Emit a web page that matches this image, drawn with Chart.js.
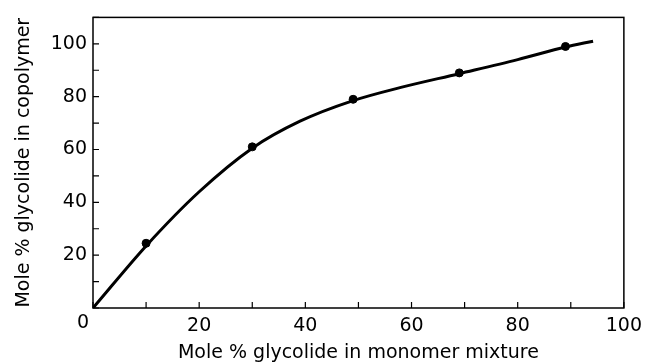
<!DOCTYPE html>
<html>
<head>
<meta charset="utf-8">
<script src="https://cdn.jsdelivr.net/npm/chart.js@4"></script>
<style>
  html, body { margin: 0; padding: 0; background: #fff; }
  #wrap { width: 649px; height: 364px; }
</style>
</head>
<body>
<div id="wrap"><canvas id="copolymerChart" width="649" height="364"></canvas></div>
<script>
// Measured points (mole % glycolide in monomer mixture vs in copolymer)
const measuredX = [10, 30, 49, 69, 89];
const measuredY = [24.5, 61, 79, 89, 99];

// Hand-drawn fitted curve
const curveX = [0, 10, 20, 30, 39, 49, 58, 69, 80, 89, 94.2];
const curveY = [0, 23.5, 44, 60.5, 70.7, 78.5, 83.5, 88.7, 94, 98.8, 101];

const xTicks = [0, 20, 40, 60, 80, 100];
const yTicks = [20, 40, 60, 80, 100];

const FONT = 'DejaVu Sans';

// Inward tick marks, the frame and the origin "0"
const frameAndTicks = {
    id: 'frameAndTicks',
    afterDraw(chart) {
        const ctx = chart.ctx;
        const area = chart.chartArea;
        const xs = chart.scales.x;
        const ys = chart.scales.y;
        ctx.save();
        ctx.strokeStyle = '#000';
        ctx.lineWidth = 1.5;
        ctx.strokeRect(area.left, area.top, area.right - area.left, area.bottom - area.top);

        ctx.lineWidth = 1.2;
        ctx.beginPath();
        xs.ticks.forEach(t => {
            const px = xs.getPixelForValue(t.value);
            ctx.moveTo(px, area.bottom);
            ctx.lineTo(px, area.bottom - 6);
        });
        ys.ticks.forEach(t => {
            const py = ys.getPixelForValue(t.value);
            ctx.moveTo(area.left, py);
            ctx.lineTo(area.left + 6, py);
        });
        ctx.stroke();

        ctx.fillStyle = '#000';
        ctx.font = '19px "' + FONT + '"';
        ctx.textAlign = 'center';
        ctx.textBaseline = 'middle';
        ctx.fillText('0', xs.getPixelForValue(0) - 10, area.bottom + 15);
        ctx.restore();
    }
};

function buildPoints(xs, ys) {
    return xs.map((x, i) => ({ x: x, y: ys[i] }));
}

document.addEventListener('DOMContentLoaded', function() {
    const ctx = document.getElementById('copolymerChart').getContext('2d');

    new Chart(ctx, {
        type: 'scatter',
        data: {
            datasets: [
                {
                    label: 'curve',
                    data: buildPoints(curveX, curveY),
                    showLine: true,
                    borderColor: '#000',
                    borderWidth: 3,
                    pointRadius: 0,
                    cubicInterpolationMode: 'monotone',
                    fill: false
                },
                {
                    label: 'measured',
                    data: buildPoints(measuredX, measuredY),
                    showLine: false,
                    pointRadius: 4,
                    backgroundColor: '#000',
                    borderColor: '#000'
                }
            ]
        },
        options: {
            responsive: false,
            animation: false,
            layout: { padding: { left: 0, right: 25, top: 15, bottom: 0 } },
            plugins: {
                legend: { display: false },
                tooltip: { enabled: false }
            },
            scales: {
                x: {
                    type: 'linear',
                    min: 0,
                    max: 100,
                    afterFit: scale => { scale.height = 56; },
                    grid: { display: false, drawTicks: false },
                    border: { display: false },
                    ticks: {
                        stepSize: 10,
                        padding: 7,
                        color: '#000',
                        font: { family: FONT, size: 19 },
                        maxRotation: 0,
                        autoSkip: false,
                        callback: v => (xTicks.includes(v) && v !== 0 ? String(v) : '')
                    },
                    title: {
                        display: true,
                        text: 'Mole % glycolide in monomer mixture',
                        color: '#000',
                        font: { family: FONT, size: 19 },
                        padding: { top: 0, bottom: 0 }
                    }
                },
                y: {
                    type: 'linear',
                    min: 0,
                    max: 110,
                    afterFit: scale => { scale.width = 93; },
                    grid: { display: false, drawTicks: false },
                    border: { display: false },
                    ticks: {
                        stepSize: 10,
                        padding: 6,
                        color: '#000',
                        font: { family: FONT, size: 19 },
                        autoSkip: false,
                        callback: v => (yTicks.includes(v) ? String(v) : '')
                    },
                    title: {
                        display: true,
                        text: 'Mole % glycolide in copolymer',
                        color: '#000',
                        font: { family: FONT, size: 19 },
                        padding: { top: 13, bottom: 0 }
                    }
                }
            }
        },
        plugins: [frameAndTicks]
    });
});
</script>
</body>
</html>
